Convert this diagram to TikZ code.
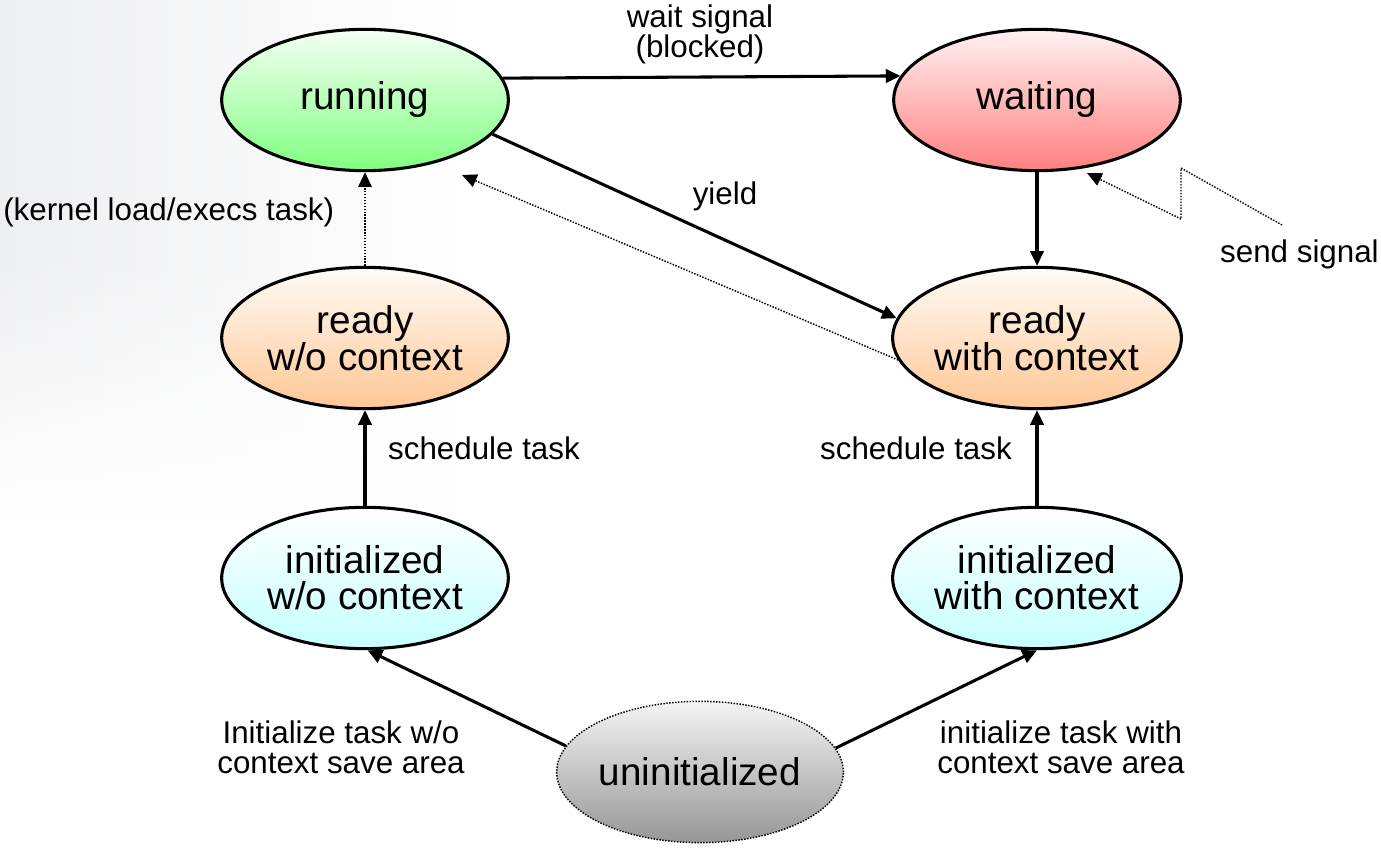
\documentclass[tikz,border=0pt]{standalone}
\usepackage{fontspec}
\setmainfont{Liberation Sans}
\usetikzlibrary{shapes.geometric,arrows.meta,fadings}
\definecolor{gtop}{HTML}{F4FFF4}
\definecolor{gbot}{HTML}{80FF80}
\definecolor{rtop}{HTML}{FFF2F2}
\definecolor{rbot}{HTML}{FF8080}
\definecolor{otop}{HTML}{FFFBF6}
\definecolor{obot}{HTML}{FFC795}
\definecolor{ctop}{HTML}{FFFFFF}
\definecolor{cbot}{HTML}{C6FFFF}
\definecolor{utop}{HTML}{F4F4F4}
\definecolor{ubot}{HTML}{969696}
\definecolor{bgl}{HTML}{EEEFF1}
\begin{document}
\begin{tikzpicture}[x=0.75pt,y=-0.75pt,
  state/.style={ellipse, draw=black, line width=2.3pt, minimum width=215pt, minimum height=106pt,
    inner sep=0pt, align=center, font=\fontsize{29}{27}\selectfont},
  lbl/.style={inner sep=0pt, align=center, font=\fontsize{23.5}{22.5}\selectfont},
  solidarrow/.style={line width=2.3pt, -{Triangle[length=11pt,width=10pt]}},
  dotarrow/.style={line width=1.1pt, dash pattern=on 1.1pt off 1.1pt, -{Triangle[length=11pt,width=10pt]}},
  dotline/.style={line width=1.1pt, dash pattern=on 1.1pt off 1.1pt}]
\useasboundingbox (0,0) rectangle (1381,848);
\fill[white] (0,0) rectangle (1381,848);
\shade[left color=bgl, right color=white] (0,0) rectangle (470,520);
\fill[white, path fading=north] (0,250) rectangle (471,521);

% states
\node[state, top color=gtop, bottom color=gbot] (run) at (365,100) {running};
\node[state, top color=rtop, bottom color=rbot] (wait) at (1037,100) {waiting};
\node[state, top color=otop, bottom color=obot] (rwo) at (365,338) {ready\\w/o context};
\node[state, top color=otop, bottom color=obot] (rwc) at (1037,338) {ready\\with context};
\node[state, top color=ctop, bottom color=cbot] (iwo) at (365,578) {initialized\\w/o context};
\node[state, top color=ctop, bottom color=cbot] (iwc) at (1037,578) {initialized\\with context};
\node[state, top color=utop, bottom color=ubot, line width=1.1pt, dash pattern=on 1.1pt off 1.1pt] (uni) at (700,772) {uninitialized};

% labels
\node[lbl] (lwait) at (700,34) {wait signal\\(blocked)};
\node[lbl] (lyield) at (725,196) {yield};
\node[lbl, anchor=west] (lkern) at (3,212) {(kernel load/execs task)};
\node[lbl, anchor=east] (lsend) at (1379,254) {send signal};
\node[lbl] (lsch1) at (484,448) {schedule task};
\node[lbl] (lsch2) at (916,448) {schedule task};
\node[lbl] (linit1) at (341,747) {Initialize task w/o\\context save area};
\node[lbl] (linit2) at (1061,747) {initialize task with\\context save area};

% helper coordinates
\coordinate (dtip) at (462,175);
\coordinate (s0) at (1282,225);
\coordinate (s1) at (1181,168);
\coordinate (s2) at (1181,219);
\coordinate (stip) at (1087,173);

% connectors
\draw[solidarrow] (run.9.5) -- (wait.170.5);
\draw[solidarrow] (run.-15.4) -- (rwc.172.7);
\draw[dotarrow] (rwc.189) -- (dtip);
\draw[solidarrow] (wait.south) -- (rwc.north);
\draw[dotline] (s0) -- (s1) -- (s2);
\draw[dotarrow] (s2) -- (stip);
\draw[dotarrow] (rwo.north) -- (run.south);
\draw[solidarrow] (iwo.north) -- (rwo.south);
\draw[solidarrow] (iwc.north) -- (rwc.south);
\draw[solidarrow] (uni.169.5) -- (iwo.-88);
\draw[solidarrow] (uni.10.5) -- (iwc.south);
\end{tikzpicture}
\end{document}
